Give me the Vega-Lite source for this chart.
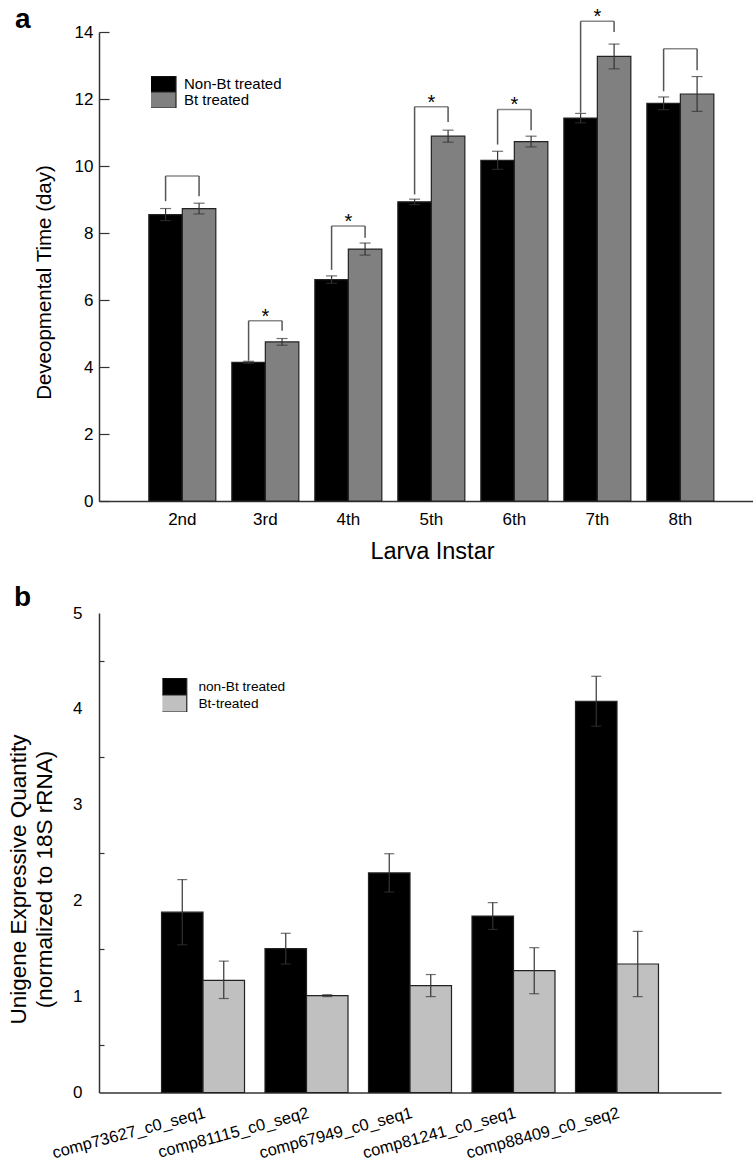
{
  "$schema": "https://vega.github.io/schema/vega-lite/v6.json",
  "padding": {"left": 7, "top": 6, "right": 0, "bottom": 0},
  "spacing": 21,
  "resolve": {"scale": {"x": "independent", "y": "independent", "color": "independent", "xOffset": "independent"}, "legend": {"color": "independent"}, "axis": {"x": "independent", "y": "independent"}},
  "config": {"font": "Liberation Sans", "view": {"stroke": null}, "axis": {"labelColor": "#000", "titleColor": "#000", "titleFontWeight": "normal", "domainColor": "#333", "domainWidth": 1.5, "tickColor": "#333", "tickWidth": 1.2, "grid": false}},
  "datasets": {
    "a_bars": [
      {"instar": "2nd", "group": "Non-Bt treated", "value": 8.55, "lo": 8.37, "hi": 8.73},
      {"instar": "2nd", "group": "Bt treated", "value": 8.73, "lo": 8.57, "hi": 8.89},
      {"instar": "3rd", "group": "Non-Bt treated", "value": 4.14, "lo": 4.11, "hi": 4.17},
      {"instar": "3rd", "group": "Bt treated", "value": 4.75, "lo": 4.65, "hi": 4.85},
      {"instar": "4th", "group": "Non-Bt treated", "value": 6.61, "lo": 6.5, "hi": 6.72},
      {"instar": "4th", "group": "Bt treated", "value": 7.52, "lo": 7.34, "hi": 7.7},
      {"instar": "5th", "group": "Non-Bt treated", "value": 8.93, "lo": 8.85, "hi": 9.01},
      {"instar": "5th", "group": "Bt treated", "value": 10.89, "lo": 10.71, "hi": 11.07},
      {"instar": "6th", "group": "Non-Bt treated", "value": 10.17, "lo": 9.9, "hi": 10.44},
      {"instar": "6th", "group": "Bt treated", "value": 10.73, "lo": 10.57, "hi": 10.89},
      {"instar": "7th", "group": "Non-Bt treated", "value": 11.43, "lo": 11.29, "hi": 11.57},
      {"instar": "7th", "group": "Bt treated", "value": 13.27, "lo": 12.9, "hi": 13.64},
      {"instar": "8th", "group": "Non-Bt treated", "value": 11.87, "lo": 11.68, "hi": 12.06},
      {"instar": "8th", "group": "Bt treated", "value": 12.15, "lo": 11.63, "hi": 12.67}
    ],
    "a_legs": [
      {"instar": "2nd", "group": "Non-Bt treated", "bottom": 8.95, "top": 9.7},
      {"instar": "2nd", "group": "Bt treated", "bottom": 9.1, "top": 9.7},
      {"instar": "3rd", "group": "Non-Bt treated", "bottom": 4.19, "top": 5.38},
      {"instar": "3rd", "group": "Bt treated", "bottom": 5.08, "top": 5.38},
      {"instar": "4th", "group": "Non-Bt treated", "bottom": 6.9, "top": 8.21},
      {"instar": "4th", "group": "Bt treated", "bottom": 7.86, "top": 8.21},
      {"instar": "5th", "group": "Non-Bt treated", "bottom": 9.15, "top": 11.77},
      {"instar": "5th", "group": "Bt treated", "bottom": 11.31, "top": 11.77},
      {"instar": "6th", "group": "Non-Bt treated", "bottom": 10.64, "top": 11.69},
      {"instar": "6th", "group": "Bt treated", "bottom": 11.07, "top": 11.69},
      {"instar": "7th", "group": "Non-Bt treated", "bottom": 11.59, "top": 14.32},
      {"instar": "7th", "group": "Bt treated", "bottom": 14.0, "top": 14.32},
      {"instar": "8th", "group": "Non-Bt treated", "bottom": 12.23, "top": 13.5},
      {"instar": "8th", "group": "Bt treated", "bottom": 12.86, "top": 13.5}
    ],
    "a_brackets": [
      {"instar": "2nd", "top": 9.7, "star": ""},
      {"instar": "3rd", "top": 5.38, "star": "*"},
      {"instar": "4th", "top": 8.21, "star": "*"},
      {"instar": "5th", "top": 11.77, "star": "*"},
      {"instar": "6th", "top": 11.69, "star": "*"},
      {"instar": "7th", "top": 14.32, "star": "*"},
      {"instar": "8th", "top": 13.5, "star": ""}
    ],
    "b_bars": [
      {"gene": "comp73627_c0_seq1", "group": "non-Bt treated", "value": 1.88, "lo": 1.54, "hi": 2.22},
      {"gene": "comp73627_c0_seq1", "group": "Bt-treated", "value": 1.17, "lo": 0.98, "hi": 1.37},
      {"gene": "comp81115_c0_seq2", "group": "non-Bt treated", "value": 1.5, "lo": 1.34, "hi": 1.66},
      {"gene": "comp81115_c0_seq2", "group": "Bt-treated", "value": 1.01, "lo": 1.0, "hi": 1.02},
      {"gene": "comp67949_c0_seq1", "group": "non-Bt treated", "value": 2.29, "lo": 2.09, "hi": 2.49},
      {"gene": "comp67949_c0_seq1", "group": "Bt-treated", "value": 1.115, "lo": 1.0, "hi": 1.23},
      {"gene": "comp81241_c0_seq1", "group": "non-Bt treated", "value": 1.84, "lo": 1.7, "hi": 1.98},
      {"gene": "comp81241_c0_seq1", "group": "Bt-treated", "value": 1.27, "lo": 1.03, "hi": 1.51},
      {"gene": "comp88409_c0_seq2", "group": "non-Bt treated", "value": 4.08, "lo": 3.82, "hi": 4.34},
      {"gene": "comp88409_c0_seq2", "group": "Bt-treated", "value": 1.34, "lo": 1.0, "hi": 1.68}
    ]
  },
  "vconcat": [
    {
      "width": 654,
      "height": 469,
      "title": {"text": "a", "anchor": "start", "frame": "group", "fontSize": 28, "fontWeight": "bold", "baseline": "alphabetic", "dx": -84, "dy": 49, "offset": 0, "color": "#000"},
      "layer": [
        {
          "data": {"name": "a_bars"},
          "mark": {"type": "bar", "stroke": "#222", "strokeWidth": 1.2},
          "encoding": {
            "x": {"field": "instar", "type": "nominal", "scale": {"paddingInner": 0.193, "paddingOuter": 0.536, "align": 0.56},
                  "axis": {"title": "Larva Instar", "titleFontSize": 23.5, "titlePadding": 12, "titleX": 333, "labelFontSize": 17, "labelPadding": 10, "ticks": false, "tickSize": 0, "labelAngle": 0}},
            "xOffset": {"field": "group", "type": "nominal", "scale": {"domain": ["Non-Bt treated", "Bt treated"], "paddingInner": 0, "paddingOuter": 0}},
            "y": {"field": "value", "type": "quantitative", "scale": {"domain": [0, 14], "nice": false},
                  "axis": {"values": [0,1,2,3,4,5,6,7,8,9,10,11,12,13,14], "labelExpr": "datum.value % 2 === 0 ? datum.label : ''",
                           "tickSize": {"condition": {"test": "datum.value % 2 === 0", "value": -10}, "value": -6},
                           "labelPadding": 16, "labelFontSize": 17, "title": "Deveopmental Time (day)", "titleFontSize": 20.5,
                           "titleX": -49, "titleY": 250, "titleBaseline": "alphabetic"}},
            "color": {"field": "group", "type": "nominal", "scale": {"domain": ["Non-Bt treated", "Bt treated"], "range": ["#000000", "#808080"]},
                      "legend": {"title": null, "orient": "none", "legendX": 52, "legendY": 44, "symbolType": "M-2,-1H2V1H-2Z", "symbolSize": 256, "clipHeight": 16,
                                 "symbolStrokeColor": "#222", "symbolStrokeWidth": 1.2, "symbolOpacity": 1, "labelFontSize": 15, "labelOffset": 15, "rowPadding": 0, "padding": 0, "labelColor": "#000"}}
          }
        },
        {
          "data": {"name": "a_bars"},
          "mark": {"type": "rule", "color": "#333", "strokeWidth": 1.2},
          "encoding": {"x": {"field": "instar", "type": "nominal"}, "xOffset": {"field": "group", "type": "nominal"}, "y": {"field": "lo", "type": "quantitative"}, "y2": {"field": "hi"}}
        },
        {
          "data": {"name": "a_bars"},
          "mark": {"type": "tick", "orient": "horizontal", "color": "#333", "thickness": 1.2, "size": 11},
          "encoding": {"x": {"field": "instar", "type": "nominal"}, "xOffset": {"field": "group", "type": "nominal"}, "y": {"field": "lo", "type": "quantitative"}}
        },
        {
          "data": {"name": "a_bars"},
          "mark": {"type": "tick", "orient": "horizontal", "color": "#333", "thickness": 1.2, "size": 11},
          "encoding": {"x": {"field": "instar", "type": "nominal"}, "xOffset": {"field": "group", "type": "nominal"}, "y": {"field": "hi", "type": "quantitative"}}
        },
        {
          "data": {"name": "a_legs"},
          "mark": {"type": "rule", "color": "#555", "strokeWidth": 1.5},
          "encoding": {"x": {"field": "instar", "type": "nominal"}, "xOffset": {"field": "group", "type": "nominal"}, "y": {"field": "bottom", "type": "quantitative"}, "y2": {"field": "top"}}
        },
        {
          "data": {"name": "a_brackets"},
          "mark": {"type": "tick", "orient": "horizontal", "color": "#555", "thickness": 1.5, "size": 33.5},
          "encoding": {"x": {"field": "instar", "type": "nominal"}, "y": {"field": "top", "type": "quantitative"}}
        },
        {
          "data": {"name": "a_brackets"},
          "mark": {"type": "text", "fontSize": 20, "color": "#000", "baseline": "alphabetic", "dy": 2},
          "encoding": {"x": {"field": "instar", "type": "nominal"}, "y": {"field": "top", "type": "quantitative"}, "text": {"field": "star"}}
        }
      ]
    },
    {
      "width": 622,
      "height": 479.5,
      "title": {"text": "b", "anchor": "start", "frame": "group", "fontSize": 28, "fontWeight": "bold", "baseline": "alphabetic", "dx": -85, "dy": 30, "offset": 0, "color": "#000"},
      "layer": [
        {
          "data": {"name": "b_bars"},
          "mark": {"type": "bar", "stroke": "#222", "strokeWidth": 1.2},
          "encoding": {
            "x": {"field": "gene", "type": "nominal", "scale": {"domain": ["comp73627_c0_seq1", "comp81115_c0_seq2", "comp67949_c0_seq1", "comp81241_c0_seq1", "comp88409_c0_seq2"], "paddingInner": 0.198, "paddingOuter": 0.604, "align": 0.5},
                  "axis": {"title": null, "labelFontSize": 16.5, "labelAngle": -15, "labelAlign": "right", "labelBaseline": "top", "labelPadding": 12, "ticks": false, "tickSize": 0}},
            "xOffset": {"field": "group", "type": "nominal", "scale": {"domain": ["non-Bt treated", "Bt-treated"], "paddingInner": 0, "paddingOuter": 0}},
            "y": {"field": "value", "type": "quantitative", "scale": {"domain": [0, 5], "nice": false},
                  "axis": {"values": [0,0.5,1,1.5,2,2.5,3,3.5,4,4.5,5], "labelExpr": "datum.value % 1 === 0 ? format(datum.value, 'd') : ''",
                           "tickSize": {"condition": {"test": "datum.value % 1 === 0", "value": 0}, "value": -5},
                           "labelPadding": 17, "labelFontSize": 17,
                           "title": ["Unigene Expressive Quantity", "(normalized to 18S rRNA)"], "titleFontSize": 22.5, "titleLineHeight": 26,
                           "titleX": -74, "titleY": 266, "titleBaseline": "alphabetic"}},
            "color": {"field": "group", "type": "nominal", "scale": {"domain": ["non-Bt treated", "Bt-treated"], "range": ["#000000", "#c0c0c0"]},
                      "legend": {"title": null, "orient": "none", "legendX": 63.4, "legendY": 65, "symbolType": "M-1.75,-1H1.75V1H-1.75Z", "symbolSize": 289, "clipHeight": 17,
                                 "symbolStrokeColor": "#222", "symbolStrokeWidth": 1.2, "symbolOpacity": 1, "labelFontSize": 13.7, "labelOffset": 17, "rowPadding": 0, "padding": 0, "labelColor": "#000"}}
          }
        },
        {
          "data": {"name": "b_bars"},
          "mark": {"type": "rule", "color": "#333", "strokeWidth": 1.2},
          "encoding": {"x": {"field": "gene", "type": "nominal"}, "xOffset": {"field": "group", "type": "nominal"}, "y": {"field": "lo", "type": "quantitative"}, "y2": {"field": "hi"}}
        },
        {
          "data": {"name": "b_bars"},
          "mark": {"type": "tick", "orient": "horizontal", "color": "#333", "thickness": 1.2, "size": 10},
          "encoding": {"x": {"field": "gene", "type": "nominal"}, "xOffset": {"field": "group", "type": "nominal"}, "y": {"field": "lo", "type": "quantitative"}}
        },
        {
          "data": {"name": "b_bars"},
          "mark": {"type": "tick", "orient": "horizontal", "color": "#333", "thickness": 1.2, "size": 10},
          "encoding": {"x": {"field": "gene", "type": "nominal"}, "xOffset": {"field": "group", "type": "nominal"}, "y": {"field": "hi", "type": "quantitative"}}
        }
      ]
    }
  ]
}
